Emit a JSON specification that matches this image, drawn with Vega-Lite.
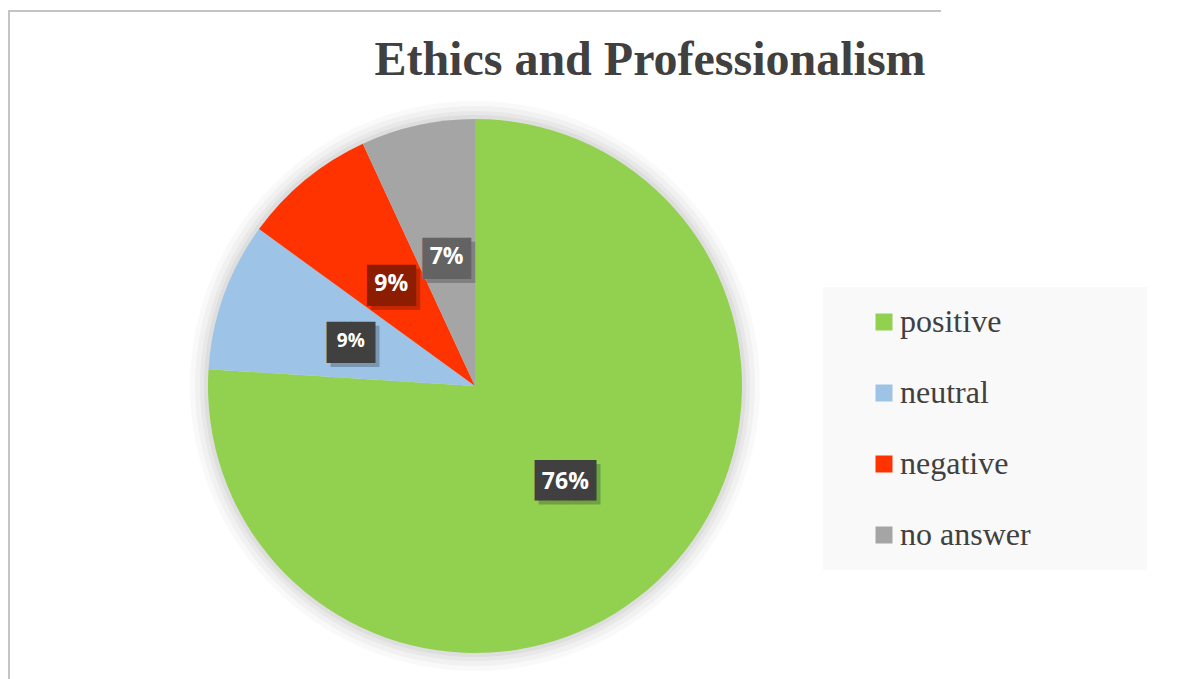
{
  "$schema": "https://vega.github.io/schema/vega-lite/v6.json",
  "width": 932,
  "height": 750,
  "autosize": "none",
  "padding": {"left": 9, "top": 11, "right": 251, "bottom": 0},
  "background": "white",
  "view": {"stroke": "#c4c4c4", "strokeWidth": 2, "strokeDash": [932, 1682, 750]},
  "title": {
    "text": "Ethics and Professionalism",
    "font": "Liberation Serif",
    "fontSize": 48,
    "fontWeight": "bold",
    "color": "#404040",
    "anchor": "middle",
    "frame": "group",
    "dx": 175,
    "offset": -112,
    "baseline": "alphabetic"
  },
  "layer": [
    {"data": {"values": [{"ring": 1}]}, "mark": {"type": "arc", "theta": 0, "theta2": 6.2832, "radius": 285, "color": "#000000", "opacity": 0.025}, "encoding": {}},
    {"data": {"values": [{"ring": 2}]}, "mark": {"type": "arc", "theta": 0, "theta2": 6.2832, "radius": 280, "color": "#000000", "opacity": 0.03}, "encoding": {}},
    {"data": {"values": [{"ring": 3}]}, "mark": {"type": "arc", "theta": 0, "theta2": 6.2832, "radius": 275, "color": "#000000", "opacity": 0.035}, "encoding": {}},
    {"data": {"values": [{"ring": 4}]}, "mark": {"type": "arc", "theta": 0, "theta2": 6.2832, "radius": 271, "color": "#000000", "opacity": 0.045}, "encoding": {}},
    {
      "data": {
        "values": [
          {"category": "positive", "value": 76.0, "label": "76%", "rank": 1},
          {"category": "neutral", "value": 9.0, "label": "9%", "rank": 2},
          {"category": "negative", "value": 8.1, "label": "9%", "rank": 3},
          {"category": "no answer", "value": 6.9, "label": "7%", "rank": 4}
        ]
      },
      "encoding": {
        "theta": {"field": "value", "type": "quantitative", "stack": true},
        "order": {"field": "rank", "type": "quantitative"}
      },
      "layer": [
        {
          "mark": {"type": "arc", "radius": 267},
          "encoding": {
            "color": {
              "field": "category",
              "type": "nominal",
              "scale": {
                "domain": ["positive", "neutral", "negative", "no answer"],
                "range": ["#92d050", "#9dc3e6", "#ff3300", "#a5a5a5"]
              },
              "legend": {
                "orient": "none",
                "legendX": 814,
                "legendY": 276,
                "title": "\u00a0",
                "titleOrient": "right",
                "titleFontSize": 10,
                "titlePadding": 97,
                "fillColor": "#f9f9f9",
                "padding": 19,
                "symbolType": "square",
                "symbolSize": 289,
                "symbolStrokeWidth": 0,
                "symbolOffset": 26,
                "labelOffset": 0,
                "labelFont": "Liberation Serif",
                "labelFontSize": 32,
                "labelColor": "#404040",
                "labelLimit": 300,
                "rowPadding": 39
              }
            }
          }
        },
        {
          "mark": {"type": "text", "radius": 132, "font": "DejaVu Sans Mono", "baseline": "middle", "align": "center", "dx": 4, "dy": 4, "color": "#000000", "opacity": 0.22},
          "encoding": {
            "text": {"condition": {"test": "datum.category === 'positive'", "value": "███"}, "value": "▇▇"},
            "size": {"condition": {"test": "datum.category === 'positive'", "value": 34}, "value": 40}
          }
        },
        {
          "mark": {"type": "text", "radius": 132, "font": "DejaVu Sans Mono", "baseline": "middle", "align": "center"},
          "encoding": {
            "text": {"condition": {"test": "datum.category === 'positive'", "value": "███"}, "value": "▇▇"},
            "size": {"condition": {"test": "datum.category === 'positive'", "value": 34}, "value": 40},
            "color": {
              "condition": [
                {"test": "datum.category === 'negative'", "value": "#8c1d00"},
                {"test": "datum.category === 'no answer'", "value": "#636363"}
              ],
              "value": "#404040"
            }
          }
        },
        {
          "mark": {"type": "text", "radius": 132, "font": "Open Sans", "fontWeight": "bold", "baseline": "middle", "align": "center", "color": "#ffffff"},
          "encoding": {
            "text": {"field": "label", "type": "nominal"},
            "size": {"condition": {"test": "datum.category === 'neutral'", "value": 19}, "value": 23}
          }
        }
      ]
    }
  ]
}
